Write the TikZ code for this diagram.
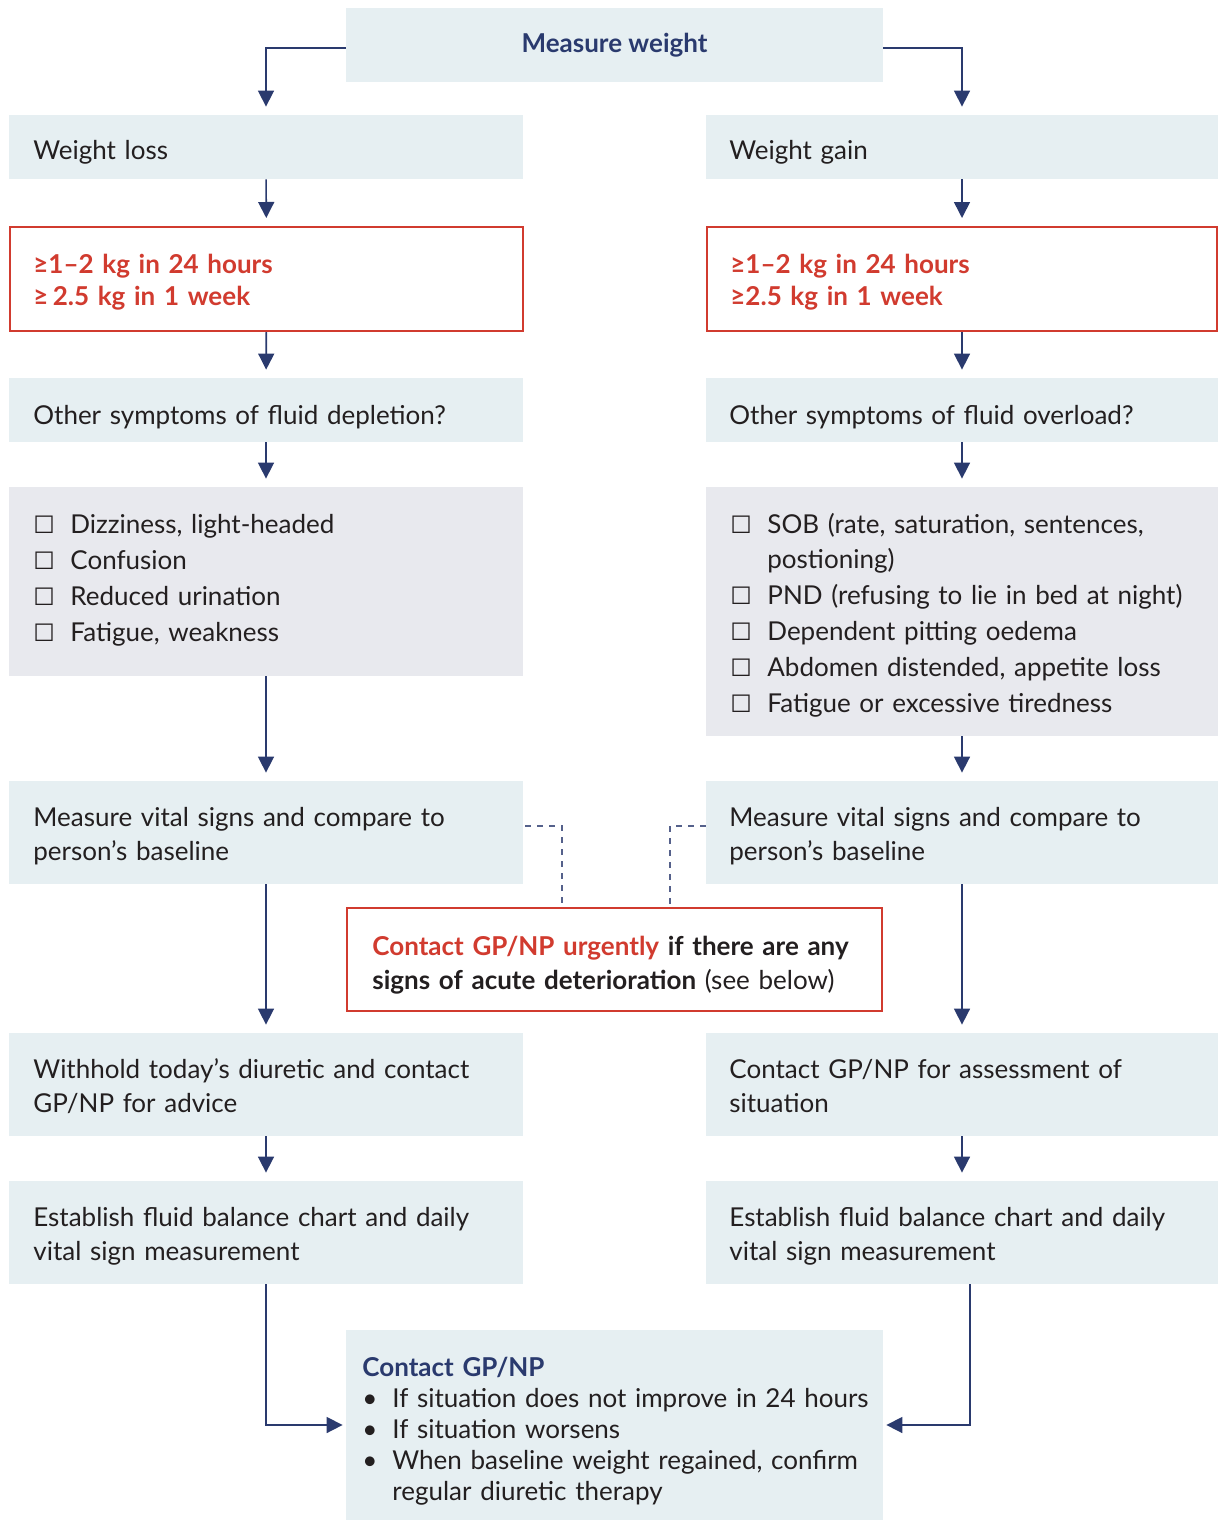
\documentclass[tikz,border=0pt]{standalone}
\usepackage{fontspec}
\setmainfont{Lato}
\newfontfamily\djv{DejaVu Sans}
\usetikzlibrary{arrows.meta}
\definecolor{bluefill}{HTML}{E6EFF2}
\definecolor{grayfill}{HTML}{E8E9EE}
\definecolor{navy}{HTML}{2A3A6E}
\definecolor{redc}{HTML}{D13B2F}
\definecolor{txt}{HTML}{231F20}
\newcommand\cbx{\makebox[18.5pt][l]{{\djv\fontsize{12}{12}\selectfont\char"2610}}}
\newcommand\bul{\makebox[15pt][l]{•}}
\begin{document}
\begin{tikzpicture}[x=0.5pt,y=-0.5pt,
  box/.style={rectangle, inner sep=0pt},
  bluebox/.style={box, fill=bluefill},
  graybox/.style={box, fill=grayfill},
  redbox/.style={box, draw=redc, line width=1pt, fill=white},
  tx/.style={anchor=base west, inner sep=0pt, align=left, text width=262pt, text=txt,
    font=\fontsize{13}{#1}\selectfont},
  tx/.default=17.5pt,
  redtx/.style={tx, text=redc, font=\fontsize{13}{16.4}\selectfont\bfseries},
  arr/.style={draw=navy, line width=0.8pt, -{Triangle[width=8pt,length=8pt]}, shorten >=4pt},
  dline/.style={draw=navy!80, line width=0.6pt, dash pattern=on 3pt off 3pt}]
\useasboundingbox (0,0) rectangle (1218,1520);
% ---- boxes
\node[bluebox, minimum width=268.5pt, minimum height=37pt, text=navy,
  font=\fontsize{13}{15}\selectfont\bfseries] (mw) at (614.5,45) {Measure weight};
% left column
\node[bluebox, minimum width=257pt, minimum height=32pt] (wl) at (266,147) {};
\node[redbox, minimum width=256.5pt, minimum height=52pt] (rl) at (266.5,279) {};
\node[bluebox, minimum width=257pt, minimum height=32pt] (ol) at (266,410) {};
\node[graybox, minimum width=257pt, minimum height=94.5pt] (cl) at (266,581.5) {};
\node[bluebox, minimum width=257pt, minimum height=51.5pt] (vl) at (266,832.5) {};
\node[bluebox, minimum width=257pt, minimum height=51.5pt] (hl) at (266,1084.5) {};
\node[bluebox, minimum width=257pt, minimum height=51.5pt] (el) at (266,1232.5) {};
% right column
\node[bluebox, minimum width=256pt, minimum height=32pt] (wr) at (962,147) {};
\node[redbox, minimum width=255pt, minimum height=52pt] (rr) at (962,279) {};
\node[bluebox, minimum width=256pt, minimum height=32pt] (or) at (962,410) {};
\node[graybox, minimum width=256pt, minimum height=124.5pt] (cr) at (962,611.5) {};
\node[bluebox, minimum width=256pt, minimum height=51.5pt] (vr) at (962,832.5) {};
\node[bluebox, minimum width=256pt, minimum height=51.5pt] (hr) at (962,1084.5) {};
\node[bluebox, minimum width=256pt, minimum height=51.5pt] (er) at (962,1232.5) {};
% middle
\node[redbox, minimum width=267.5pt, minimum height=51.5pt] (ur) at (614.5,959.5) {};
\node[bluebox, minimum width=268.5pt, minimum height=95pt] (fn) at (614.5,1425) {};
% ---- texts
\node[tx] (wlT) at (33,160) {Weight loss};
\node[redtx] (rlT) at (33,273) {≥1–2 kg in 24 hours\\≥\,2.5 kg in 1 week};
\node[tx] (olT) at (33,424) {Other symptoms of fluid depletion?};
\node[tx=18pt] (clT) at (33,533) {\cbx Dizziness, light-headed\\\cbx Confusion\\\cbx Reduced urination\\\cbx Fatigue, weakness};
\node[tx=17.3pt] (vlT) at (33,826) {Measure vital signs and compare to\\person’s baseline};
\node[tx=17.3pt] (hlT) at (33,1078) {Withhold today’s diuretic and contact\\GP/NP for advice};
\node[tx=17.3pt] (elT) at (33,1226) {Establish fluid balance chart and daily\\vital sign measurement};
\node[tx] (wrT) at (729,160) {Weight gain};
\node[redtx] (rrT) at (730,273) {≥1–2 kg in 24 hours\\≥2.5 kg in 1 week};
\node[tx] (orT) at (729,424) {Other symptoms of fluid overload?};
\node[tx=17.9pt] (crT) at (730,533) {\cbx SOB (rate, saturation, sentences,\\\hspace*{18.5pt}postioning)\\\cbx PND (refusing to lie in bed at night)\\\cbx Dependent pitting oedema\\\cbx Abdomen distended, appetite loss\\\cbx Fatigue or excessive tiredness};
\node[tx=17.3pt] (vrT) at (729,826) {Measure vital signs and compare to\\person’s baseline};
\node[tx=17.3pt] (hrT) at (729,1078) {Contact GP/NP for assessment of\\situation};
\node[tx=17.3pt] (erT) at (729,1226) {Establish fluid balance chart and daily\\vital sign measurement};
\node[tx=17pt] (urT) at (372,955) {\textbf{\textcolor{redc}{Contact GP/NP urgently} if there are any}\\\textbf{signs of acute deterioration} (see below)};
\node[tx=15.6pt] (fnT) at (362,1376) {\textcolor{navy}{\bfseries Contact GP/NP}\\\bul If situation does not improve in 24 hours\\\bul If situation worsens\\\bul When baseline weight regained, confirm\\\hspace*{15pt}regular diuretic therapy};
% ---- connectors
\draw[arr] ([yshift=-1.5pt]mw.west) -| (wl.north);
\draw[arr] ([yshift=-1.5pt]mw.east) -| (wr.north);
\draw[arr] (wl) -- (rl);
\draw[arr] (rl) -- (ol);
\draw[arr] (ol) -- (cl);
\draw[arr] (cl) -- (vl);
\draw[arr] (vl) -- (hl);
\draw[arr] (hl) -- (el);
\draw[arr] (wr) -- (rr);
\draw[arr] (rr) -- (or);
\draw[arr] (or) -- (cr);
\draw[arr] (cr) -- (vr);
\draw[arr] (vr) -- (hr);
\draw[arr] (hr) -- (er);
\draw[arr, shorten >=1.5pt] (el.south) |- (fn.west);
\draw[arr, shorten >=1.5pt] ([xshift=4pt]er.south) |- (fn.east);
\draw[dline] ([yshift=3.25pt,xshift=1pt]vl.east) -| ([xshift=-26.25pt]ur.north);
\draw[dline] ([yshift=3.25pt]vr.west) -| ([xshift=27.75pt]ur.north);
\end{tikzpicture}
\end{document}
